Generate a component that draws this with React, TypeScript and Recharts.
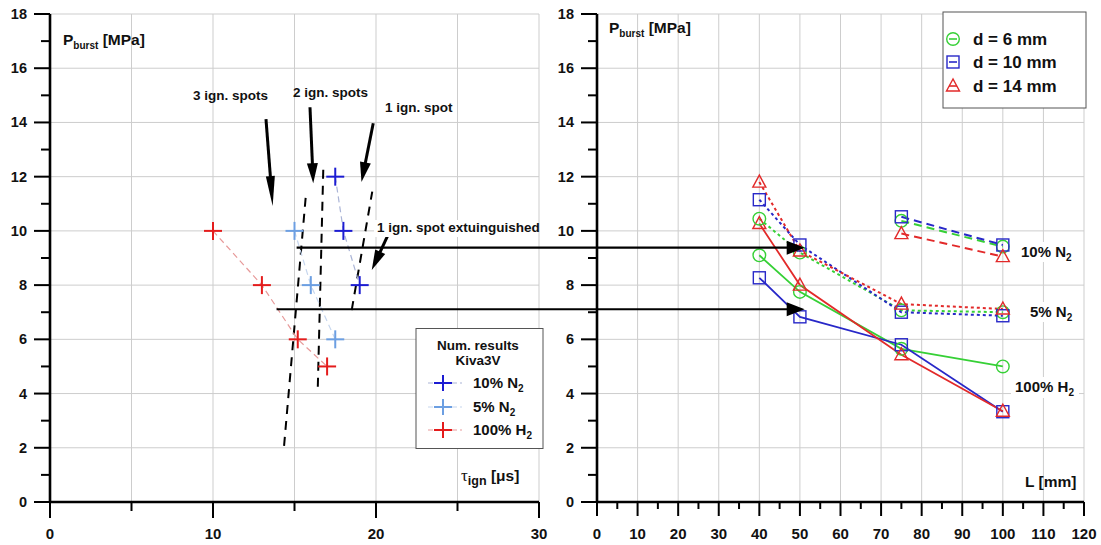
import React from "react";
import {CartesianGrid, ComposedChart, Line, ReferenceLine, XAxis, YAxis} from "recharts";

const FONT = '"Liberation Sans", Arial, sans-serif';

// ---- left plot: tau_ign [us] vs P_burst [MPa] (Kiva3V results)
const kivaN10 = [{t: 17.5, p: 12}, {t: 18, p: 10}, {t: 19, p: 8}];
const kivaN5 = [{t: 15, p: 10}, {t: 16, p: 8}, {t: 17.5, p: 6}];
const kivaH2 = [{t: 10, p: 10}, {t: 13, p: 8}, {t: 15.2, p: 6}, {t: 17, p: 5}];

const tauTicks = [0, 5, 10, 15, 20, 25, 30];
const tauLabels = [0, 10, 20, 30];
const tauGrid = [5, 10, 15, 20, 25, 30];
const pTicks = [0, 1, 2, 3, 4, 5, 6, 7, 8, 9, 10, 11, 12, 13, 14, 15, 16, 17, 18];
const pLabels = [0, 2, 4, 6, 8, 10, 12, 14, 16, 18];
const pGrid = [2, 4, 6, 8, 10, 12, 14, 16, 18];

// dashed borders between the ignition regimes
const regimeBorders = [
  [{t: 14.36, p: 2.07}, {t: 15.71, p: 11.4}],
  [{t: 16.43, p: 4.25}, {t: 16.77, p: 12.37}],
  [{t: 18.51, p: 7.08}, {t: 19.77, p: 11.45}],
];
// short arrows under the regime captions
const spotArrows = [
  [{t: 13.25, p: 14.12}, {t: 13.66, p: 10.92}],
  [{t: 15.95, p: 14.56}, {t: 16.15, p: 11.76}],
  [{t: 19.83, p: 13.97}, {t: 19.11, p: 11.8}],
  [{t: 20.74, p: 9.85}, {t: 19.74, p: 8.56}],
];
// long arrows running over into the right plot (end at L ~ 51 mm)
const linkArrows = [
  [{t: 15.13, p: 9.38}, {t: 46.3, p: 9.38}],
  [{t: 13.9, p: 7.11}, {t: 46.3, p: 7.11}],
];

// ---- right plot: L [mm] vs P_burst [MPa]
const lAll = [40, 50, 75, 100];
const lLong = [75, 100];
const lTicks = [0, 5, 10, 15, 20, 25, 30, 35, 40, 45, 50, 55, 60, 65, 70, 75, 80, 85, 90, 95, 100, 105, 110, 115, 120];
const lGrid = [10, 20, 30, 40, 50, 60, 70, 80, 90, 100, 110, 120];

const h2D6 = [9.1, 7.75, 5.65, 5.0];
const h2D10 = [8.27, 6.83, 5.8, 3.33];
const h2D14 = [10.27, 8.0, 5.43, 3.35];
const n5D6 = [10.45, 9.2, 7.07, 7.0];
const n5D10 = [11.15, 9.48, 7.0, 6.87];
const n5D14 = [11.8, 9.26, 7.3, 7.12];
const n10D6 = [10.37, 9.42];
const n10D10 = [10.52, 9.48];
const n10D14 = [9.9, 9.05];

const GREEN = "#36d036";
const BLUE = "#2828c8";
const RED = "#e22a2a";
const DARK_BLUE = "#1c1cd2";
const LIGHT_BLUE = "#6c9fe2";
const CROSS_RED = "#e41c1c";
const GRID = "#cdcdcd";

const toPts = (ls: number[], ps: number[]) => ls.map((L, i) => ({L, p: ps[i]}));

const txt = {fontFamily: FONT, fontWeight: 700, fill: "#111"} as const;

const YTick = (props: any) => {
  const {x, y, payload} = props;
  const major = pLabels.includes(payload.value);
  return (
    <g>
      <line x1={x} y1={y} x2={x - (major ? 16 : 9)} y2={y} stroke="#000" strokeWidth={2}/>
      {major && <text x={x - 23} y={y + 5} textAnchor="end" fontSize={14.5} {...txt}>{payload.value}</text>}
    </g>
  );
};

const makeXTick = (labels: number[], big: number, small: number) => (props: any) => {
  const {x, y, payload} = props;
  const major = labels.includes(payload.value);
  return (
    <g>
      <line x1={x} y1={y} x2={x} y2={y + (major ? big : small)} stroke="#000" strokeWidth={2}/>
      {major && <text x={x} y={y + 37} textAnchor="middle" fontSize={15} {...txt}>{payload.value}</text>}
    </g>
  );
};
const TauTick = makeXTick(tauLabels, 16, 9);
const LTick = makeXTick(lGrid.concat([0]), 14, 7);

const crossDot = (color: string) => (props: any) => (
  <g key={props.index}>
    <line x1={props.cx - 9} y1={props.cy} x2={props.cx + 9} y2={props.cy} stroke={color} strokeWidth={2}/>
    <line x1={props.cx} y1={props.cy - 9} x2={props.cx} y2={props.cy + 9} stroke={color} strokeWidth={2}/>
  </g>
);

const Marker = ({kind, cx, cy, color}: {kind: string; cx: number; cy: number; color: string}) => {
  if (kind === "circle") return <circle cx={cx} cy={cy} r={6.3} fill="none" stroke={color} strokeWidth={1.4}/>;
  if (kind === "square") return <rect x={cx - 6} y={cy - 6} width={12} height={12} fill="none" stroke={color} strokeWidth={1.4}/>;
  return <polygon points={`${cx},${cy - 7} ${cx - 6.5},${cy + 5} ${cx + 6.5},${cy + 5}`} fill="none" stroke={color} strokeWidth={1.4}/>;
};
const markerDot = (kind: string, color: string) => (props: any) => (
  <g key={props.index}><Marker kind={kind} cx={props.cx} cy={props.cy} color={color}/></g>
);

const arrowShape = (len: number, half: number, w: number) => (props: any) => {
  const {x1, y1, x2, y2} = props;
  const dx = x2 - x1;
  const dy = y2 - y1;
  const d = Math.hypot(dx, dy) || 1;
  const ux = dx / d;
  const uy = dy / d;
  const bx = x2 - ux * len;
  const by = y2 - uy * len;
  const pts = `${x2},${y2} ${bx - uy * half},${by + ux * half} ${bx + uy * half},${by - ux * half}`;
  return (
    <g>
      <line x1={x1} y1={y1} x2={bx + ux * 2} y2={by + uy * 2} stroke="#000" strokeWidth={w}/>
      <polygon points={pts} fill="#000"/>
    </g>
  );
};

const LeftChart = () => (
  <ComposedChart width={1101} height={545} margin={{top: 14, right: 562, bottom: 0, left: 0}}>
    <CartesianGrid stroke={GRID} horizontalValues={pGrid} verticalValues={tauGrid}/>
    <XAxis type="number" dataKey="t" domain={[0, 30]} ticks={tauTicks} interval={0} height={43}
           tickSize={0} tickMargin={0} tickLine={false} tick={TauTick}
           axisLine={{stroke: "#000", strokeWidth: 2.6}} allowDataOverflow/>
    <YAxis type="number" domain={[0, 18]} ticks={pTicks} interval={0} width={50}
           tickSize={0} tickMargin={0} tickLine={false} tick={YTick}
           axisLine={{stroke: "#000", strokeWidth: 2.6}} allowDataOverflow/>
    {regimeBorders.map((s, i) => (
      <ReferenceLine key={"b" + i} segment={[{x: s[0].t, y: s[0].p}, {x: s[1].t, y: s[1].p}]}
                     stroke="#000" strokeWidth={2} strokeDasharray="9 7" ifOverflow="visible"/>
    ))}
    <Line data={kivaH2} dataKey="p" stroke="#e79a9a" strokeWidth={1.2} strokeDasharray="6 4"
          dot={crossDot(CROSS_RED)} isAnimationActive={false}/>
    <Line data={kivaN5} dataKey="p" stroke="#c6d6ee" strokeWidth={1.2} strokeDasharray="6 4"
          dot={crossDot(LIGHT_BLUE)} isAnimationActive={false}/>
    <Line data={kivaN10} dataKey="p" stroke="#aab4d6" strokeWidth={1.2} strokeDasharray="6 4"
          dot={crossDot(DARK_BLUE)} isAnimationActive={false}/>
    {spotArrows.map((s, i) => (
      <ReferenceLine key={"a" + i} segment={[{x: s[0].t, y: s[0].p}, {x: s[1].t, y: s[1].p}]}
                     ifOverflow="visible" shape={arrowShape(i === 0 ? 30 : 20, i === 0 ? 4.5 : 5.5, 3)}/>
    ))}
    {linkArrows.map((s, i) => (
      <ReferenceLine key={"l" + i} segment={[{x: s[0].t, y: s[0].p}, {x: s[1].t, y: s[1].p}]}
                     ifOverflow="visible" shape={arrowShape(18, 7, 2.2)}/>
    ))}
  </ComposedChart>
);

const rightSeries = [
  {pts: toPts(lAll, h2D6), color: GREEN, kind: "circle", dash: undefined, w: 1.8},
  {pts: toPts(lAll, h2D10), color: BLUE, kind: "square", dash: undefined, w: 1.8},
  {pts: toPts(lAll, h2D14), color: RED, kind: "triangle", dash: undefined, w: 1.8},
  {pts: toPts(lAll, n5D6), color: GREEN, kind: "circle", dash: "3 3", w: 2},
  {pts: toPts(lAll, n5D10), color: BLUE, kind: "square", dash: "3 3", w: 2},
  {pts: toPts(lAll, n5D14), color: RED, kind: "triangle", dash: "3 3", w: 2},
  {pts: toPts(lLong, n10D6), color: GREEN, kind: "circle", dash: "8 5", w: 2},
  {pts: toPts(lLong, n10D10), color: BLUE, kind: "square", dash: "8 5", w: 2},
  {pts: toPts(lLong, n10D14), color: RED, kind: "triangle", dash: "8 5", w: 2},
];

const RightChart = () => (
  <ComposedChart width={1101} height={545} margin={{top: 14, right: 17, bottom: 0, left: 547}}>
    <CartesianGrid stroke={GRID} horizontalValues={pGrid} verticalValues={lGrid}/>
    <XAxis type="number" dataKey="L" domain={[0, 120]} ticks={lTicks} interval={0} height={43}
           tickSize={0} tickMargin={0} tickLine={false} tick={LTick}
           axisLine={{stroke: "#000", strokeWidth: 2.6}} allowDataOverflow/>
    <YAxis type="number" domain={[0, 18]} ticks={pTicks} interval={0} width={50}
           tickSize={0} tickMargin={0} tickLine={false} tick={YTick}
           axisLine={{stroke: "#000", strokeWidth: 2.6}} allowDataOverflow/>
    {rightSeries.map((s, i) => (
      <Line key={i} data={s.pts} dataKey="p" stroke={s.color} strokeWidth={s.w} strokeDasharray={s.dash}
            dot={markerDot(s.kind, s.color)} isAnimationActive={false}/>
    ))}
  </ComposedChart>
);

const Sub = ({children, size = 10, dy = 4}: {children: React.ReactNode; size?: number; dy?: number}) => (
  <tspan fontSize={size} dy={dy}>{children}</tspan>
);

const Overlay = () => (
  <svg width={1101} height={545} style={{position: "absolute", left: 0, top: 0}}>
    {/* axis titles */}
    <text x={63} y={45} fontSize={15.5} {...txt}>P<Sub>burst</Sub><tspan dy={-4}> [MPa]</tspan></text>
    <text x={609} y={33} fontSize={15.5} {...txt}>P<Sub>burst</Sub><tspan dy={-4}> [MPa]</tspan></text>
    <text x={461} y={481} fontSize={15.5} {...txt}>
      <tspan fontFamily='"Liberation Serif", serif' fontWeight={400} fontSize={17}>τ</tspan>
      <Sub size={12.5} dy={4}>ign</Sub><tspan dy={-4}> [μs]</tspan>
    </text>
    <text x={1025} y={487} fontSize={15.5} {...txt}>L [mm]</text>

    {/* regime captions */}
    <text x={193} y={100} fontSize={13.5} {...txt}>3 ign. spots</text>
    <text x={293} y={97} fontSize={13.5} {...txt}>2 ign. spots</text>
    <text x={385} y={112} fontSize={13.5} {...txt}>1 ign. spot</text>
    <rect x={374} y={220} width={164} height={17} fill="#fff"/>
    <text x={377} y={232} fontSize={13.5} {...txt}>1 ign. spot extuinguished</text>

    {/* series captions, right plot */}
    <rect x={1016} y={242} width={60} height={20} fill="#fff"/>
    <text x={1021} y={257} fontSize={15} {...txt}>10% N<Sub>2</Sub></text>
    <rect x={1026} y={302} width={50} height={20} fill="#fff"/>
    <text x={1030} y={317} fontSize={15} {...txt}>5% N<Sub>2</Sub></text>
    <rect x={1011} y={377} width={68} height={21} fill="#fff"/>
    <text x={1015} y={392} fontSize={15} {...txt}>100% H<Sub>2</Sub></text>

    {/* legend, left plot */}
    <rect x={416} y={328.5} width={127} height={120} fill="#fff" stroke="#555" strokeWidth={1}/>
    <text x={478} y={350} fontSize={13.5} textAnchor="middle" {...txt}>Num. results</text>
    <text x={478} y={365} fontSize={13.5} textAnchor="middle" {...txt}>Kiva3V</text>
    {[{c: DARK_BLUE, l: "#aab4d6", t: "10% N", s: "2", y: 383},
      {c: LIGHT_BLUE, l: "#c6d6ee", t: "5% N", s: "2", y: 407},
      {c: CROSS_RED, l: "#e79a9a", t: "100% H", s: "2", y: 430}].map((e) => (
      <g key={e.t}>
        <line x1={428} y1={e.y} x2={462} y2={e.y} stroke={e.l} strokeWidth={1.2} strokeDasharray="5 3"/>
        <line x1={434} y1={e.y} x2={452} y2={e.y} stroke={e.c} strokeWidth={2}/>
        <line x1={443} y1={e.y - 8} x2={443} y2={e.y + 8} stroke={e.c} strokeWidth={2}/>
        <text x={473} y={e.y + 5} fontSize={15} {...txt}>{e.t}<Sub>{e.s}</Sub></text>
      </g>
    ))}

    {/* legend, right plot */}
    <rect x={943} y={12} width={143} height={96} fill="#fff" stroke="#555" strokeWidth={1}/>
    {[{k: "circle", c: GREEN, t: "d = 6 mm", y: 39},
      {k: "square", c: BLUE, t: "d = 10 mm", y: 62},
      {k: "triangle", c: RED, t: "d = 14 mm", y: 86}].map((e) => (
      <g key={e.t}>
        <Marker kind={e.k} cx={953} cy={e.y} color={e.c}/>
        <line x1={949} y1={e.y} x2={957} y2={e.y} stroke={e.c} strokeWidth={1.6}/>
        <text x={973} y={e.y + 6} fontSize={17} {...txt}>{e.t}</text>
      </g>
    ))}
  </svg>
);

export default function App() {
  return (
    <div style={{position: "absolute", left: 0, top: 0, width: 1101, height: 545, background: "#fff", overflow: "hidden"}}>
      <div style={{position: "absolute", left: 0, top: 0}}><RightChart/></div>
      <div style={{position: "absolute", left: 0, top: 0}}><LeftChart/></div>
      <Overlay/>
    </div>
  );
}
